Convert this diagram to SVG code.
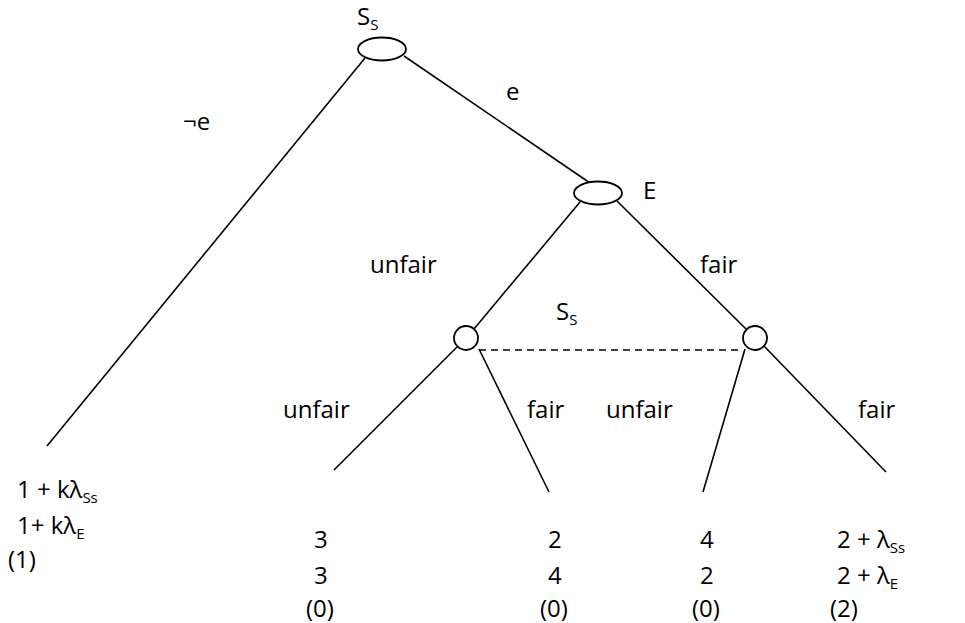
<svg xmlns="http://www.w3.org/2000/svg" width="965" height="623" viewBox="0 0 965 623">
<style>
text{font-family:"Open Sans","Noto Sans",sans-serif;font-size:24px;fill:#000}
.sub{font-size:15px}
.edge{stroke:#000;stroke-width:1.6;fill:none}
.dash{stroke:#000;stroke-width:1.6;stroke-dasharray:7 5;fill:none}
.node{fill:#fff;stroke:#000;stroke-width:1.8}
</style>
<rect width="965" height="623" fill="#fff"/>
<g id="connectors">
<line class="edge" x1="365" y1="58" x2="47" y2="446"/>
<line class="edge" x1="404" y1="56" x2="590" y2="183"/>
<line class="edge" x1="580" y1="202" x2="474" y2="329"/>
<line class="edge" x1="617" y1="201" x2="747" y2="330"/>
<line class="edge" x1="458" y1="346" x2="334" y2="470"/>
<line class="edge" x1="479" y1="349" x2="549" y2="492"/>
<line class="edge" x1="745" y1="349" x2="703" y2="492"/>
<line class="edge" x1="764" y1="346" x2="886" y2="472"/>
<line class="dash" x1="479" y1="350" x2="743" y2="350"/>
<text x="183" y="130">¬e</text>
<text x="506" y="100">e</text>
<text x="370" y="273">unfair</text>
<text x="700" y="273">fair</text>
<text x="283" y="418">unfair</text>
<text x="527" y="418">fair</text>
<text x="606" y="418">unfair</text>
<text x="858" y="418">fair</text>
</g>
<g id="root">
<ellipse class="node" cx="382" cy="49" rx="24" ry="11.5"/>
<text x="357" y="25">S<tspan class="sub" dy="5">S</tspan></text>
</g>
<g id="nodeE">
<ellipse class="node" cx="598" cy="193" rx="24" ry="11.5"/>
<text x="643" y="199">E</text>
</g>
<g id="infoSet">
<text x="556" y="320">S<tspan class="sub" dy="5">S</tspan></text>
</g>
<g id="nodeSsL">
<circle class="node" cx="466" cy="338" r="12"/>
</g>
<g id="nodeSsR">
<circle class="node" cx="755" cy="338" r="12"/>
</g>
<g id="leaf1">
<text x="17" y="498">1 + kλ<tspan class="sub" dy="5">Ss</tspan></text>
<text x="17" y="534">1+ kλ<tspan class="sub" dy="5">E</tspan></text>
<text x="8" y="568">(1)</text>
</g>
<g id="leaf2">
<text x="314" y="548">3</text>
<text x="314" y="584">3</text>
<text x="306" y="617">(0)</text>
</g>
<g id="leaf3">
<text x="548" y="548">2</text>
<text x="548" y="584">4</text>
<text x="540" y="617">(0)</text>
</g>
<g id="leaf4">
<text x="700" y="548">4</text>
<text x="700" y="584">2</text>
<text x="692" y="617">(0)</text>
</g>
<g id="leaf5">
<text x="837" y="548">2 + λ<tspan class="sub" dy="5">Ss</tspan></text>
<text x="837" y="584">2 + λ<tspan class="sub" dy="5">E</tspan></text>
<text x="830" y="617">(2)</text>
</g>
</svg>
